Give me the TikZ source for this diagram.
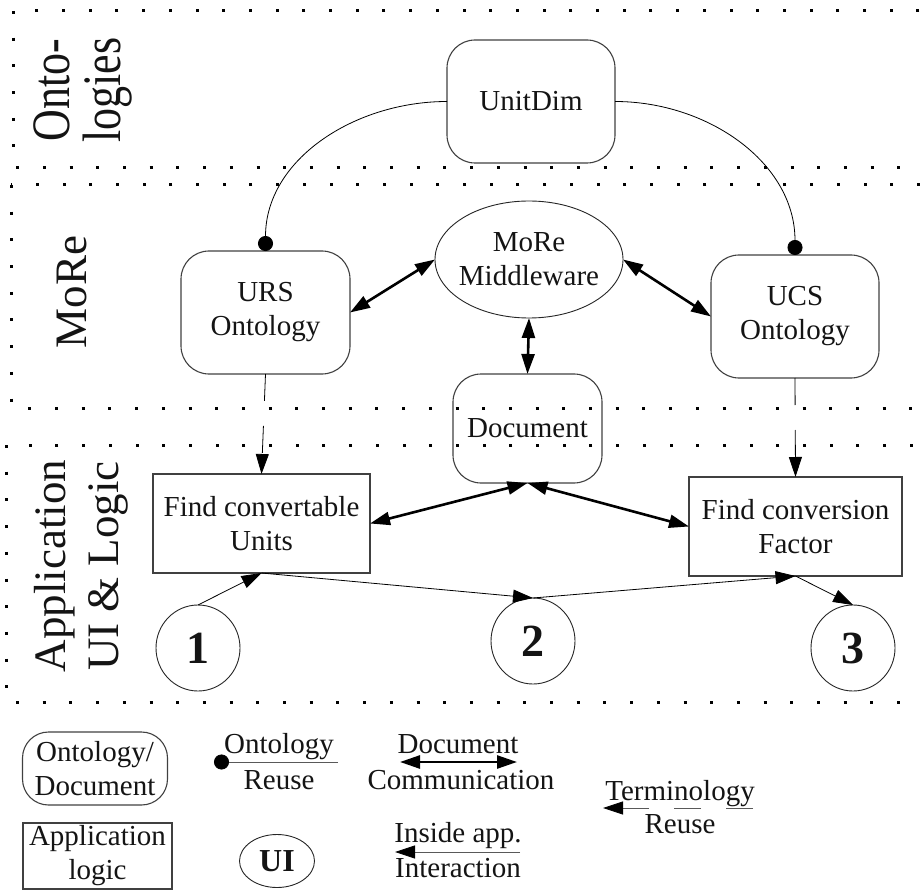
\documentclass[tikz,border=0pt]{standalone}
\usepackage{fontspec}
\setmainfont{Liberation Serif}
\usetikzlibrary{shapes.geometric,arrows.meta}
\begin{document}
\begin{tikzpicture}[x=1pt,y=-1pt,
 every node/.style={inner sep=0pt, outer sep=0pt, align=center, text=black!92, font=\fontsize{29}{34}\selectfont},
 rbox/.style={draw=black!75, line width=1.1pt, rounded corners=28pt},
 abox/.style={draw=black!75, line width=1.1pt},
 ell/.style={draw=black!85, line width=0.9pt, ellipse},
 dots/.style={line width=3pt, dash pattern=on 3pt off 23.7pt},
 twoway/.style={{Triangle[length=20pt,width=13pt,color=black]}-{Triangle[length=20pt,width=13pt,color=black]}, line width=2.6pt},
 oneway/.style={-{Triangle[length=20pt,width=13pt,color=black]}, line width=0.8pt},
 reuse/.style={-{Triangle[length=20pt,width=13pt,color=black]}, line width=0.8pt, dash pattern=on 27pt off 25pt},
 ontoreuse/.style={-{Circle[length=15pt,color=black]}, line width=0.8pt},
 num/.style={font=\fontsize{46}{46}\selectfont\bfseries}
]
\clip (0,0) rectangle (923,890);
\useasboundingbox (0,0) rectangle (923,890);

% layer frames
\draw[dots] (13,11) rectangle (950,168);
\draw[dots] (11,185) rectangle (950,408);
\draw[dots] (6,445) rectangle (950,702);

% side labels
\node (lonto) at (84,90) {\rotatebox{90}{\scalebox{1}[1.23]{\fontsize{44}{37}\selectfont\begin{tabular}{@{}c@{}}Onto-\\logies\end{tabular}}}};
\node (lmore) at (72,292) {\fontsize{45}{53}\selectfont\rotatebox{90}{MoRe}};
\node (lapp) at (81,566) {\rotatebox{90}{\fontsize{45}{53}\selectfont\begin{tabular}{@{}c@{}}Application\\UI \& Logic\end{tabular}}};

% nodes
\node[rbox, minimum width=168pt, minimum height=123pt] (UD) at (531,101.5) {UnitDim};
\node[rbox, minimum width=169pt, minimum height=123pt] (URS) at (265.5,312.5) {URS\\Ontology};
\node[rbox, minimum width=168pt, minimum height=123pt] (UCS) at (795,316.5) {UCS\\Ontology};
\node[ell, minimum width=188pt, minimum height=117pt] (MW) at (529,259.5) {};
\node (MWt) at (MW.center) {MoRe\\Middleware};
\node[rbox, minimum width=149pt, minimum height=109pt] (DOC) at (527.5,428.5) {Document};
\node[abox, minimum width=217pt, minimum height=99pt] (F1) at (261.5,523.5) {Find convertable\\Units};
\node[abox, minimum width=213pt, minimum height=99pt] (F2) at (795.5,526.5) {Find conversion\\Factor};
\node[ell, minimum width=84pt, minimum height=86pt] (C1) at (198,648) {};
\node[num] (C1t) at (C1.center) {1};
\node[ell, minimum width=84pt, minimum height=86pt] (C2) at (533,641) {};
\node[num] (C2t) at (C2.center) {2};
\node[ell, minimum width=84pt, minimum height=86pt] (C3) at (853,648) {};
\node[num] (C3t) at (C3.center) {3};

% connectors
\draw[ontoreuse] (UD.west) to[out=180,in=90] (URS.north);
\draw[ontoreuse] (UD.east) to[out=0,in=90] (UCS.north);
\draw[twoway] (URS.east) -- (MW.west);
\draw[twoway] (MW.east) -- (UCS.west);
\draw[twoway] (MW.south) -- (DOC.north);
\draw[twoway] (F1.east) -- (DOC.south);
\draw[twoway] (DOC.south) -- (F2.west);
\draw[reuse] (URS.south) -- (F1.north);
\draw[reuse] (UCS.south) -- (F2.north);
\draw[oneway] (C1.north) -- (F1.south);
\draw[oneway] (F1.south) -- (C2.north);
\draw[oneway] (C2.north) -- (F2.south);
\draw[oneway] (F2.south) -- (C3.north);

% legend
\node[rbox, rounded corners=26pt, minimum width=145pt, minimum height=73pt] (LOD) at (95,768.5) {Ontology/\\Document};
\node[abox, minimum width=149pt, minimum height=66pt] (LAL) at (97.5,856) {Application\\logic};
\node[ell, minimum width=75pt, minimum height=53pt, font=\fontsize{32}{32}\selectfont\bfseries] (LUI) at (277,861) {UI};

\coordinate (or1) at (214,762);
\coordinate (or2) at (338,762);
\draw[ontoreuse, draw=black!65] (or2) -- (or1);
\node[anchor=base] (LOR1) at (279,753) {Ontology};
\node[anchor=base] (LOR2) at (279,789) {Reuse};

\coordinate (dc1) at (400,762);
\coordinate (dc2) at (517,762);
\draw[twoway] (dc1) -- (dc2);
\node[anchor=base] (LDC1) at (458,753) {Document};
\node[anchor=base] (LDC2) at (461,789) {Communication};

\coordinate (ia1) at (520,852);
\coordinate (ia2) at (395,852);
\draw[oneway, draw=black!65] (ia1) -- (ia2);
\node[anchor=base] (LIA1) at (458,842) {Inside app.};
\node[anchor=base] (LIA2) at (458,877) {Interaction};

\coordinate (tr1) at (753,808);
\coordinate (tr2) at (603,808);
\draw[reuse, draw=black!65] (tr1) -- (tr2);
\node[anchor=base] (LTR1) at (680,800) {Terminology};
\node[anchor=base] (LTR2) at (680,833) {Reuse};
\end{tikzpicture}
\end{document}
